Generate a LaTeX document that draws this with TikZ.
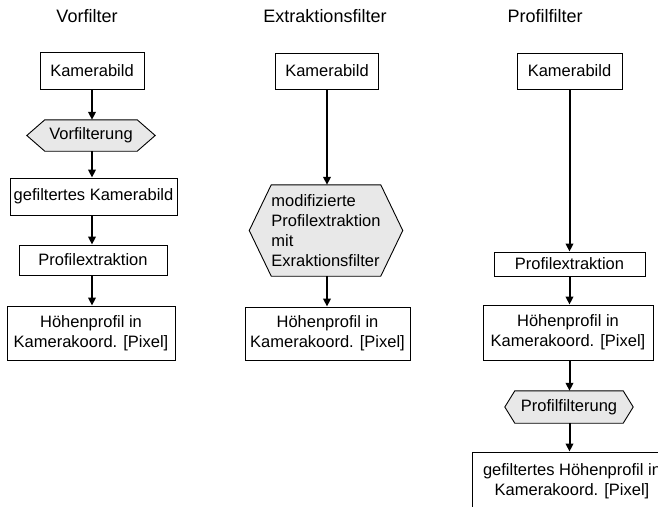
\documentclass[tikz,border=0pt]{standalone}
\usepackage{fontspec}
\setmainfont{Liberation Sans}
\usetikzlibrary{arrows.meta,backgrounds}
\definecolor{hexgray}{HTML}{E8E8E8}
\tikzset{
  box/.style={draw=black, line width=0.9pt, fill=white, inner sep=0pt, align=center,
    font=\fontsize{16.5}{20}\selectfont},
  hexnode/.style={inner sep=0pt, align=center, font=\fontsize{16.5}{20}\selectfont},
  hexshape/.style={draw=black, line width=0.9pt, fill=hexgray},
  title/.style={anchor=base, inner sep=0pt, font=\fontsize{18}{21}\selectfont},
  flow/.style={line width=2pt, -{Triangle[length=8pt,width=7.5pt]}}
}
\newcommand{\hexaround}[2]{%
  \begin{pgfonlayer}{background}
  \draw[hexshape] (#1.north west) -- (#1.north east) -- ([xshift=#2]#1.east)
    -- (#1.south east) -- (#1.south west) -- ([xshift=-#2]#1.west) -- cycle;
  \end{pgfonlayer}}
% \flowdown{column top node}{from node}{to node}
\newcommand{\flowdown}[3]{\draw[flow] (#1.south |- #2.south) -- (#1.south |- #3.north);}
\begin{document}
\begin{tikzpicture}[x=1pt,y=-1pt]
\useasboundingbox (0,0) rectangle (658,506);
\clip (0,0) rectangle (658,506);
% titles
\node[title] (t1) at (87,23) {Vorfilter};
\node[title] (t2) at (325,23) {Extraktionsfilter};
\node[title] (t3) at (545,23) {Profilfilter};
% column 1
\node[box, minimum width=104pt, minimum height=37pt] (a1) at (92,70.5) {Kamerabild};
\node[hexnode, minimum width=92pt, minimum height=31pt] (a2) at (91,135.5) {Vorfilterung};
\hexaround{a2}{18pt}
\node[box, minimum width=167pt, minimum height=37pt] (a3) at (93.5,196.5) {gefiltertes Kamerabild};
\node[box, minimum width=148pt, minimum height=30pt] (a4) at (93,260) {Profilextraktion};
\node[box, minimum width=168pt, minimum height=54pt] (a5) at (91,333) {Höhenprofil in\\Kamerakoord. [Pixel]};
\flowdown{a1}{a1}{a2}
\flowdown{a1}{a2}{a3}
\flowdown{a1}{a3}{a4}
\flowdown{a1}{a4}{a5}
% column 2
\node[box, minimum width=103pt, minimum height=36pt] (b1) at (327,71) {Kamerabild};
\node[hexnode, align=left, minimum width=105pt, minimum height=91pt] (b2) at (326,230.5)
  {modifizierte\\Profilextraktion\\mit\\Exraktionsfilter};
\hexaround{b2}{22pt}
\node[box, minimum width=165pt, minimum height=53pt] (b3) at (327.5,333.5) {Höhenprofil in\\Kamerakoord. [Pixel]};
\flowdown{b1}{b1}{b2}
\flowdown{b1}{b2}{b3}
% column 3
\node[box, minimum width=105pt, minimum height=36pt] (c1) at (569.5,71) {Kamerabild};
\node[box, minimum width=151pt, minimum height=24pt] (c2) at (569.5,264) {Profilextraktion};
\node[box, minimum width=170pt, minimum height=55pt] (c3) at (568,332.5) {Höhenprofil in\\Kamerakoord. [Pixel]};
\node[hexnode, minimum width=108pt, minimum height=32pt] (c4) at (569,407) {Profilfilterung};
\hexaround{c4}{10pt}
\node[box, minimum width=200pt, minimum height=58pt] (c5) at (572,481) {gefiltertes Höhenprofil in\\Kamerakoord. [Pixel]};
\flowdown{c1}{c1}{c2}
\flowdown{c1}{c2}{c3}
\flowdown{c1}{c3}{c4}
\flowdown{c1}{c4}{c5}
\end{tikzpicture}
\end{document}
